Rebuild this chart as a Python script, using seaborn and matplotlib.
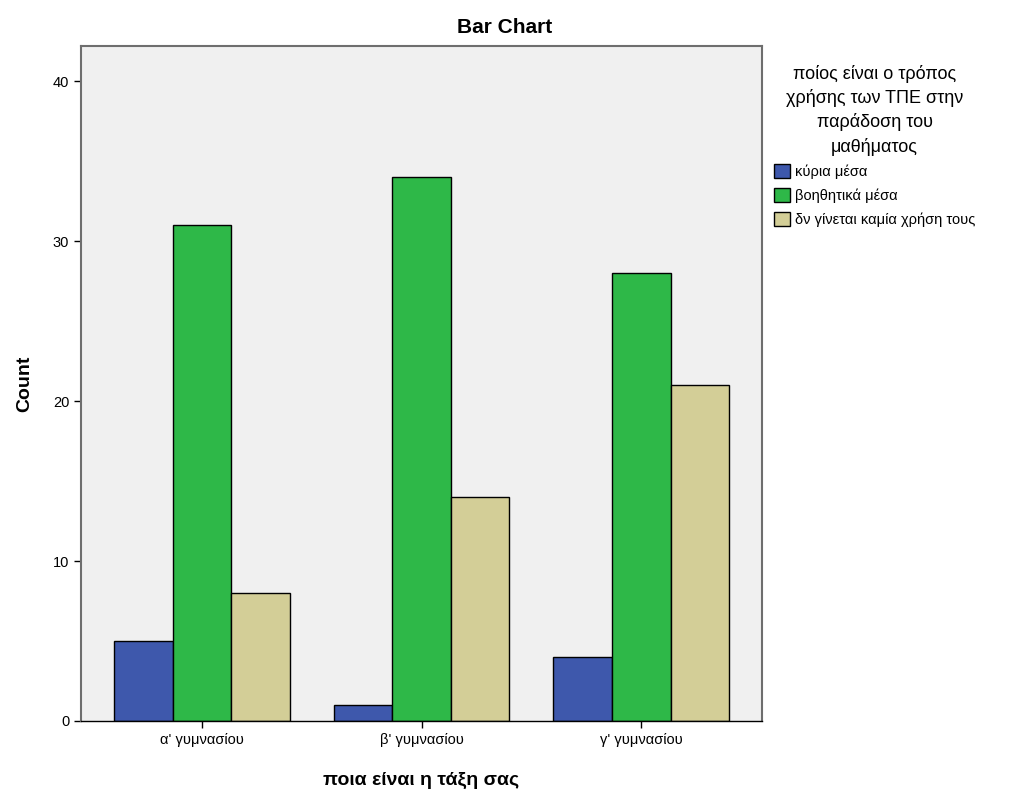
import matplotlib
matplotlib.use("Agg")
import matplotlib.pyplot as plt
import pandas as pd
import seaborn as sns

# --- Data ---
classes = ["α' γυμνασίου", "β' γυμνασίου", "γ' γυμνασίου"]
usage = ["κύρια μέσα", "βοηθητικά μέσα", "δν γίνεται καμία χρήση τους"]
kyria = [5, 1, 4]
voithitika = [31, 34, 28]
den_xrisi = [8, 14, 21]
colors = ["#3E58AC", "#2EB848", "#D3CE97"]

rows = []
for i, c in enumerate(classes):
    for u, vals in zip(usage, [kyria, voithitika, den_xrisi]):
        rows.append({"class": c, "usage": u, "count": vals[i]})
df = pd.DataFrame(rows)

sns.set_style("white")
plt.rcParams['font.family'] = ['Liberation Sans', 'DejaVu Sans']
plt.rcParams['text.color'] = 'black'
plt.rcParams['axes.labelcolor'] = 'black'
plt.rcParams['xtick.color'] = 'black'
plt.rcParams['ytick.color'] = 'black'

fig = plt.figure(figsize=(10.1, 7.98), dpi=100)
ax = fig.add_axes([0.0802, 0.0965, 0.6743, 0.8459])
ax.set_facecolor("#F0F0F0")

sns.barplot(data=df, x="class", y="count", hue="usage", order=classes,
            hue_order=usage, palette=colors, width=0.8, saturation=1,
            edgecolor="black", linewidth=1, ax=ax)

ax.set_xlim(-0.55, 2.55)
ax.set_ylim(0, 42.2)
ax.set_yticks([0, 10, 20, 30, 40])
ax.tick_params(axis="both", direction="out", length=5, width=1, labelsize=10.5,
               color="black", labelcolor="black", left=True, bottom=True)

for side in ["left", "top", "right"]:
    ax.spines[side].set_color("#6E6E6E")
    ax.spines[side].set_linewidth(1.5)
ax.spines["bottom"].set_color("black")
ax.spines["bottom"].set_linewidth(1)

fig.suptitle("Bar Chart", x=0.5, y=0.978, fontsize=15, fontweight="bold", color="black")
ax.set_ylabel("Count", fontsize=14, fontweight="bold", labelpad=14, color="black")
ax.set_xlabel("ποια είναι η τάξη σας", fontsize=14, fontweight="bold", labelpad=18, color="black")

leg = ax.legend(title="ποίος είναι ο τρόπος\nχρήσης των ΤΠΕ στην\nπαράδοση του\nμαθήματος",
                loc="upper left", bbox_to_anchor=(1.005, 0.985), frameon=False,
                fontsize=10.5, title_fontsize=13, handlelength=1.1, handleheight=1.1,
                handletextpad=0.3, labelspacing=0.6, borderaxespad=0.2)
leg._legend_box.align = "center"
leg.get_title().set_multialignment("center")
leg.get_title().set_linespacing(1.45)
leg.get_title().set_color("black")
for t in leg.get_texts():
    t.set_color("black")
for h in leg.legend_handles:
    h.set_edgecolor("black")
    h.set_linewidth(1)

fig.savefig("out.png", dpi=100)
